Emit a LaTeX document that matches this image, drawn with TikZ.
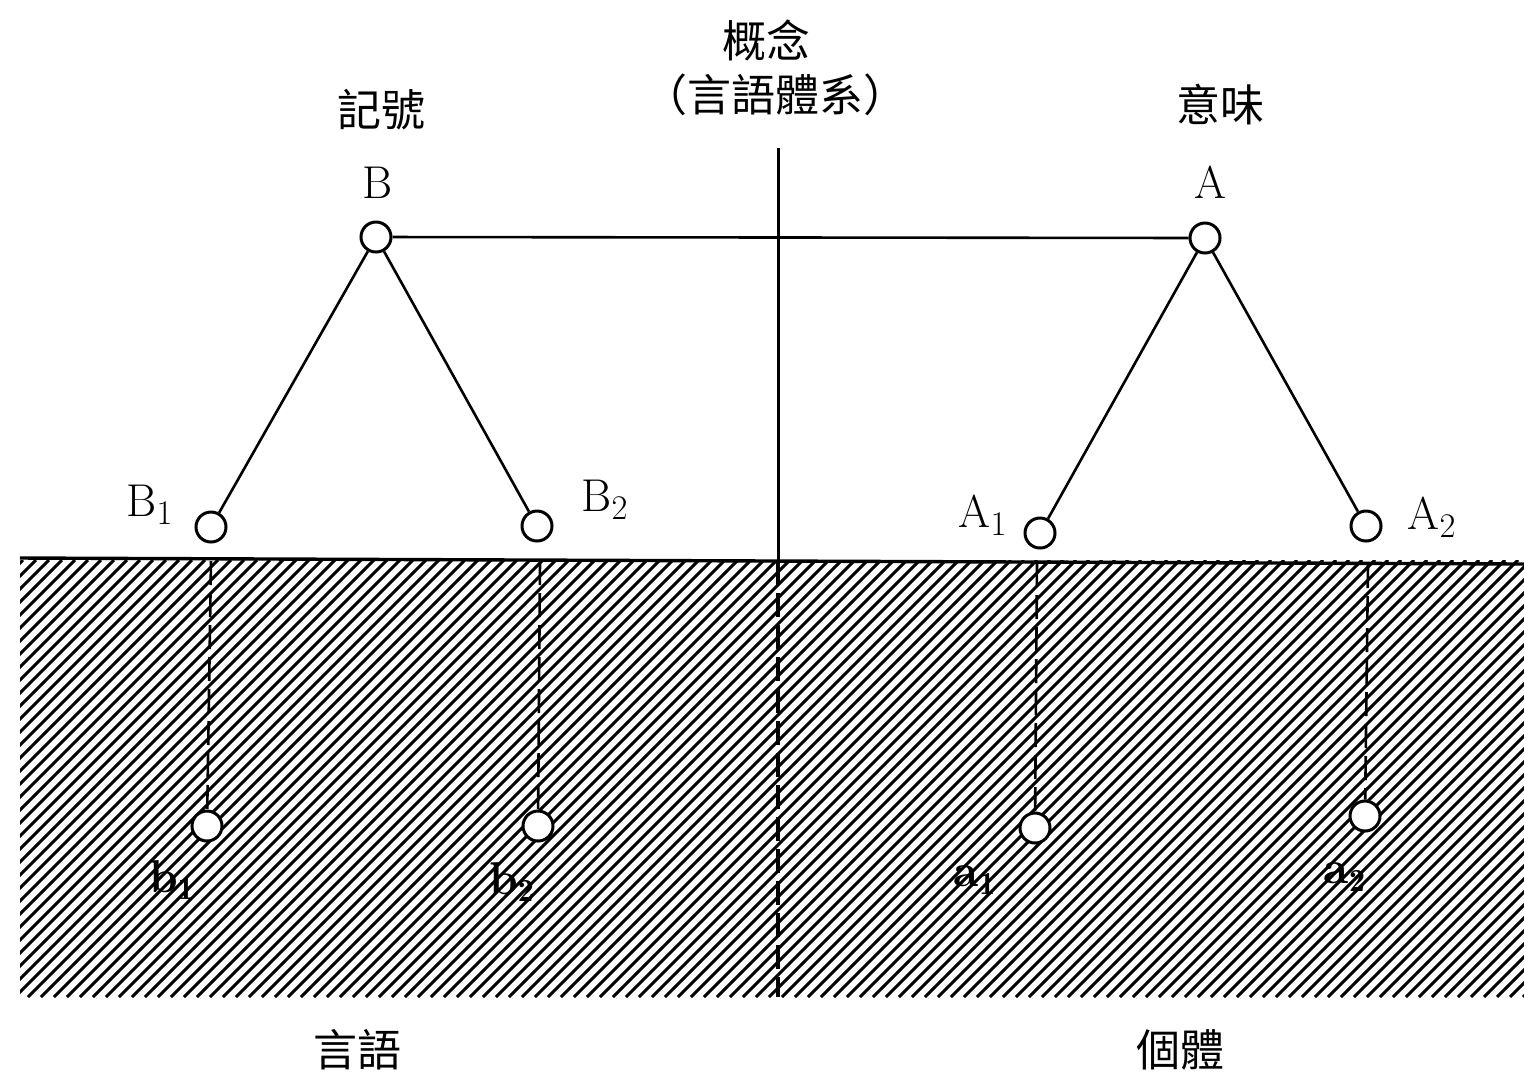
\documentclass[tikz,border=0pt]{standalone}
\usepackage{fontspec}
\newfontfamily\cjk{Noto Sans CJK TC}
\begin{document}
\begin{tikzpicture}[x=0.5pt,y=-0.5pt,
  pt/.style={circle,draw,line width=1.5pt,fill=white,minimum size=15pt,inner sep=0pt},
  link/.style={line width=1.3pt},
  drop/.style={line width=1.3pt,dash pattern=on 12pt off 4pt},
  hatch/.style={line width=1.5pt},
  lab/.style={font=\fontsize{23}{25}\selectfont},
  blab/.style={font=\bfseries\fontsize{23}{25}\selectfont},
  cj/.style={font=\cjk\fontsize{22}{26}\selectfont}]
\useasboundingbox (0,0) rectangle (1524,1078);
% hatched ground
\begin{scope}
\clip (20,560) rectangle (1524,997);
\foreach \i in {0,...,152} {
  \draw[hatch] ({-440+\i*13},997) -- ++(437,-437);
}
\end{scope}
\coordinate (gl) at (20,558);
\coordinate (gr) at (1524,564);
\draw[line width=1.7pt] (gl) -- (gr);
% vertical divider
\coordinate (vt) at (778,148);
\coordinate (vm) at (778,561);
\coordinate (vb) at (778,997);
\draw[line width=1.5pt] (vt) -- (vm);
\draw[drop,line width=1.6pt] (vm) -- (vb);
% nodes
\node[pt] (B) at (376,237) {};
\node[pt] (A) at (1205,238) {};
\node[pt] (B1) at (211,527) {};
\node[pt] (B2) at (537,526) {};
\node[pt] (A1) at (1040,533) {};
\node[pt] (A2) at (1366,526) {};
\node[pt] (b1) at (207,826) {};
\node[pt] (b2) at (538,826) {};
\node[pt] (a1) at (1035,828) {};
\node[pt] (a2) at (1365,816) {};
% connectors
\draw[link] (B) -- (A);
\draw[link] (B) -- (B1);
\draw[link] (B) -- (B2);
\draw[link] (A) -- (A1);
\draw[link] (A) -- (A2);
\coordinate (s1) at (211,561);
\coordinate (s2) at (540,561);
\coordinate (s3) at (1037,563);
\coordinate (s4) at (1368,564);
\draw[drop] (s1) -- (b1);
\draw[drop] (s2) -- (b2);
\draw[drop] (s3) -- (a1);
\draw[drop] (s4) -- (a2);
% letter labels
\node[lab] (lB) at (378,183) {B};
\node[lab] (lA) at (1210,182) {A};
\node[lab] (lB1) at (150,505) {B$_1$};
\node[lab] (lB2) at (605,500) {B$_2$};
\node[lab] (lA1) at (983,515) {A$_1$};
\node[lab] (lA2) at (1432,517) {A$_2$};
\node[blab] (lb1) at (172,880) {b$_{\mathbf 1}$};
\node[blab] (lb2) at (512,882) {b$_{\mathbf 2}$};
\node[blab] (la1) at (975,880) {a$_{\mathbf 1}$};
\node[blab] (la2) at (1345,877) {a$_{\mathbf 2}$};
% CJK labels
\node[cj] (t1) at (766,40) {概念};
\node[cj] (t2) at (775,95) {（言語體系）};
\node[cj] (t3) at (381,110) {記號};
\node[cj] (t4) at (1220,105) {意味};
\node[cj] (t5) at (357,1050) {言語};
\node[cj] (t6) at (1180,1050) {個體};
\end{tikzpicture}
\end{document}
